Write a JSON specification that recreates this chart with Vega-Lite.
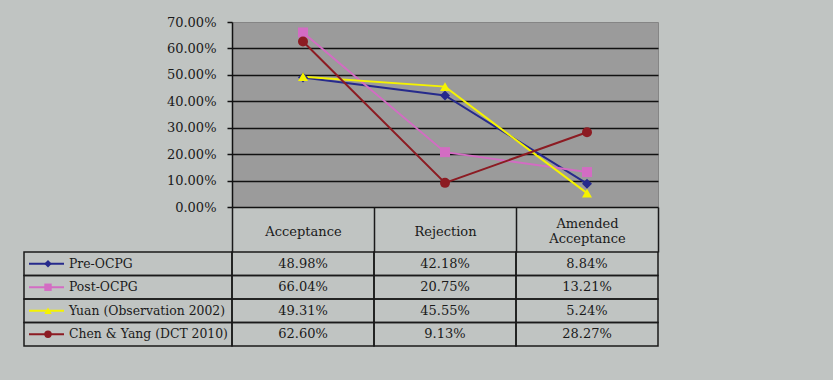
{
  "$schema": "https://vega.github.io/schema/vega-lite/v6.json",
  "background": "#c0c4c2",
  "padding": {"left": 23, "top": 15, "right": 175, "bottom": 33},
  "autosize": {"type": "pad"},
  "columns": 2,
  "spacing": {"row": 45, "column": 0},
  "bounds": "flush",
  "align": "each",
  "config": {
    "view": {"stroke": null},
    "font": "DejaVu Serif",
    "axis": {"labelFont": "DejaVu Serif", "labelColor": "#1a1a1a", "labelFontSize": 13}
  },
  "datasets": {
    "d": [
      {"series": "Pre-OCPG", "category": "Acceptance", "value": 0.4898},
      {"series": "Pre-OCPG", "category": "Rejection", "value": 0.4218},
      {"series": "Pre-OCPG", "category": "Amended Acceptance", "value": 0.0884},
      {"series": "Post-OCPG", "category": "Acceptance", "value": 0.6604},
      {"series": "Post-OCPG", "category": "Rejection", "value": 0.2075},
      {"series": "Post-OCPG", "category": "Amended Acceptance", "value": 0.1321},
      {"series": "Yuan (Observation 2002)", "category": "Acceptance", "value": 0.4931},
      {"series": "Yuan (Observation 2002)", "category": "Rejection", "value": 0.4555},
      {"series": "Yuan (Observation 2002)", "category": "Amended Acceptance", "value": 0.0524},
      {"series": "Chen & Yang (DCT 2010)", "category": "Acceptance", "value": 0.626},
      {"series": "Chen & Yang (DCT 2010)", "category": "Rejection", "value": 0.0913},
      {"series": "Chen & Yang (DCT 2010)", "category": "Amended Acceptance", "value": 0.2827}
    ],
    "s": [
      {"series": "Pre-OCPG"},
      {"series": "Post-OCPG"},
      {"series": "Yuan (Observation 2002)"},
      {"series": "Chen & Yang (DCT 2010)"}
    ]
  },
  "concat": [
    {
      "width": 208,
      "height": 185,
      "data": {"values": [{"a": 1}]},
      "mark": {"type": "text", "text": ""}
    },
    {
      "width": 426,
      "height": 185,
      "view": {"fill": "#9b9b9b", "stroke": "#858585", "strokeWidth": 1},
      "data": {"name": "d"},
      "encoding": {
        "x": {"field": "category", "type": "nominal", "sort": ["Acceptance", "Rejection", "Amended Acceptance"], "scale": {"type": "point", "padding": 0.5}, "axis": null},
        "y": {
          "field": "value", "type": "quantitative",
          "scale": {"domain": [0, 0.7], "nice": false},
          "axis": {
            "values": [0, 0.1, 0.2, 0.3, 0.4, 0.5, 0.6, 0.7],
            "format": ".2%", "title": null,
            "grid": true,
            "gridColor": {"condition": {"test": "datum.value >= 0.69", "value": "transparent"}, "value": "#111111"},
            "gridWidth": 1.6,
            "domainColor": "#111111", "domainWidth": 1.5,
            "tickColor": "#111111", "tickSize": 5, "tickWidth": 1.5,
            "labelPadding": 11
          }
        },
        "color": {
          "field": "series", "type": "nominal",
          "scale": {"domain": ["Pre-OCPG", "Post-OCPG", "Yuan (Observation 2002)", "Chen & Yang (DCT 2010)"], "range": ["#262a8c", "#d36cc3", "#f5f300", "#8c1b22"]},
          "legend": null
        }
      },
      "layer": [
        {"mark": {"type": "line", "strokeWidth": 2}},
        {
          "mark": {"type": "point", "filled": true, "opacity": 1, "size": 100},
          "encoding": {
            "shape": {"field": "series", "type": "nominal", "scale": {"domain": ["Pre-OCPG", "Post-OCPG", "Yuan (Observation 2002)", "Chen & Yang (DCT 2010)"], "range": ["diamond", "square", "triangle-up", "circle"]}, "legend": null}
          }
        }
      ]
    },
    {
      "width": 208,
      "height": 94,
      "data": {"name": "s"},
      "encoding": {
        "y": {"field": "series", "type": "nominal", "sort": ["Pre-OCPG", "Post-OCPG", "Yuan (Observation 2002)", "Chen & Yang (DCT 2010)"], "scale": {"type": "band", "paddingInner": 0, "paddingOuter": 0}, "axis": null}
      },
      "layer": [
        {
          "mark": {"type": "rect", "fill": "transparent", "stroke": "#1a1a1a", "strokeWidth": 1.5},
          "encoding": {
            "x": {"datum": 0, "type": "quantitative", "scale": {"domain": [0, 208], "nice": false, "zero": false}, "axis": null},
            "x2": {"datum": 208}
          }
        },
        {
          "mark": {"type": "rule", "strokeWidth": 2},
          "encoding": {
            "x": {"datum": 5, "type": "quantitative"},
            "x2": {"datum": 40},
            "y": {"field": "series", "type": "nominal", "sort": ["Pre-OCPG", "Post-OCPG", "Yuan (Observation 2002)", "Chen & Yang (DCT 2010)"], "bandPosition": 0.5},
            "color": {"field": "series", "type": "nominal", "legend": null}
          }
        },
        {
          "mark": {"type": "point", "filled": true, "opacity": 1, "size": 55},
          "encoding": {
            "x": {"datum": 24, "type": "quantitative"},
            "y": {"field": "series", "type": "nominal", "sort": ["Pre-OCPG", "Post-OCPG", "Yuan (Observation 2002)", "Chen & Yang (DCT 2010)"], "bandPosition": 0.5},
            "color": {"field": "series", "type": "nominal", "legend": null},
            "shape": {"field": "series", "type": "nominal", "legend": null}
          }
        },
        {
          "mark": {"type": "text", "align": "left", "baseline": "middle", "font": "DejaVu Serif", "fontSize": 12.4, "color": "#1a1a1a"},
          "encoding": {
            "x": {"datum": 45, "type": "quantitative"},
            "y": {"field": "series", "type": "nominal", "sort": ["Pre-OCPG", "Post-OCPG", "Yuan (Observation 2002)", "Chen & Yang (DCT 2010)"], "bandPosition": 0.5},
            "text": {"field": "series", "type": "nominal"}
          }
        }
      ]
    },
    {
      "width": 426,
      "height": 94,
      "data": {"name": "d"},
      "encoding": {
        "x": {
          "field": "category", "type": "nominal", "sort": ["Acceptance", "Rejection", "Amended Acceptance"],
          "scale": {"type": "band", "paddingInner": 0, "paddingOuter": 0},
          "axis": {
            "orient": "top", "title": null, "labelAngle": 0,
            "labelExpr": "datum.label == 'Amended Acceptance' ? ['Amended', 'Acceptance'] : datum.label",
            "tickBand": "extent", "tickSize": 45, "tickColor": "#1a1a1a", "tickWidth": 1.5,
            "domain": false,
            "labelPadding": {"condition": {"test": "datum.value == 'Amended Acceptance'", "value": -16.5}, "value": -24},
            "labelBaseline": "middle", "labelLineHeight": 15
          }
        },
        "y": {"field": "series", "type": "nominal", "sort": ["Pre-OCPG", "Post-OCPG", "Yuan (Observation 2002)", "Chen & Yang (DCT 2010)"], "scale": {"type": "band", "paddingInner": 0, "paddingOuter": 0}, "axis": null}
      },
      "layer": [
        {"mark": {"type": "rect", "fill": "transparent", "stroke": "#1a1a1a", "strokeWidth": 1.5}},
        {
          "mark": {"type": "text", "font": "DejaVu Serif", "fontSize": 13, "color": "#1a1a1a"},
          "encoding": {"text": {"field": "value", "type": "quantitative", "format": ".2%"}}
        }
      ]
    }
  ]
}
